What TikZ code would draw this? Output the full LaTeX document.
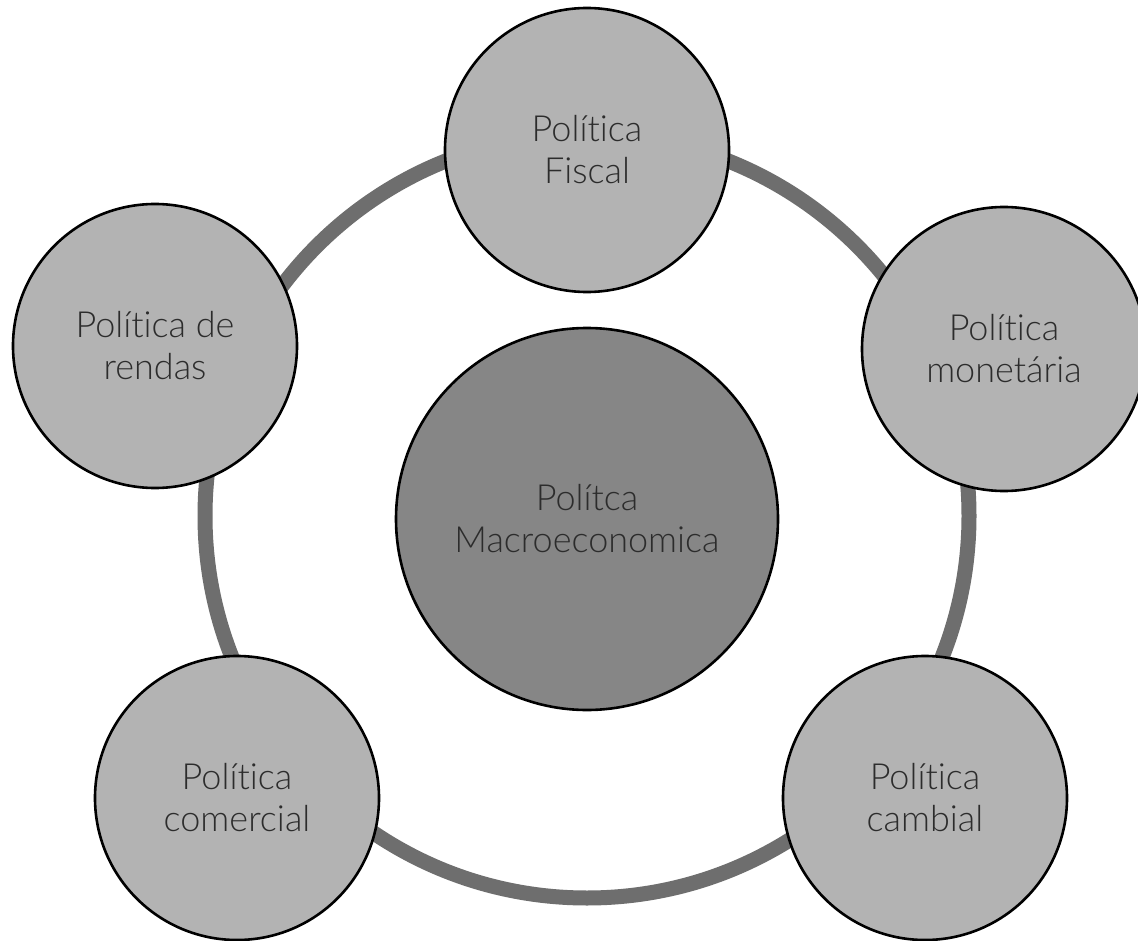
\documentclass[tikz,border=0pt]{standalone}
\usepackage{fontspec}
\IfFontExistsTF{Lato Light}{\setmainfont{Lato Light}[Ligatures={NoCommon,NoRequired,NoContextual,NoRare}]}{\setmainfont{Lato}[Ligatures={NoCommon}]}
\definecolor{outerfill}{HTML}{B3B3B3}
\definecolor{centerfill}{HTML}{868686}
\definecolor{ringcol}{HTML}{6E6E6E}
\definecolor{txtcol}{HTML}{2C2C2C}
\tikzset{
  bubble/.style={circle, draw=black, line width=2.6pt, fill=outerfill, minimum size=284pt, inner sep=0pt,
    align=center, text=txtcol, font=\fontsize{36}{42}\selectfont},
  hub/.style={bubble, fill=centerfill, minimum size=382pt},
  ring/.style={draw=ringcol, line width=15pt}
}
\begin{document}
\begin{tikzpicture}[x=1pt,y=-1pt]
\useasboundingbox[fill=white] (0,0) rectangle (1138,941);
\coordinate (ringc) at (587,516);
\draw[ring] (ringc) circle[radius=382];
\node[hub] (macro) at (587,519) {Polítca\\Macroeconomica};
\node[bubble] (fiscal) at (587,150) {Política\\Fiscal};
\node[bubble] (monet) at (1004,349) {Política\\monetária};
\node[bubble] (rendas) at (155,346) {Política de\\rendas};
\node[bubble] (comerc) at (237,798) {Política\\comercial};
\node[bubble] (cambial) at (925,798) {Política\\cambial};
\end{tikzpicture}
\end{document}
